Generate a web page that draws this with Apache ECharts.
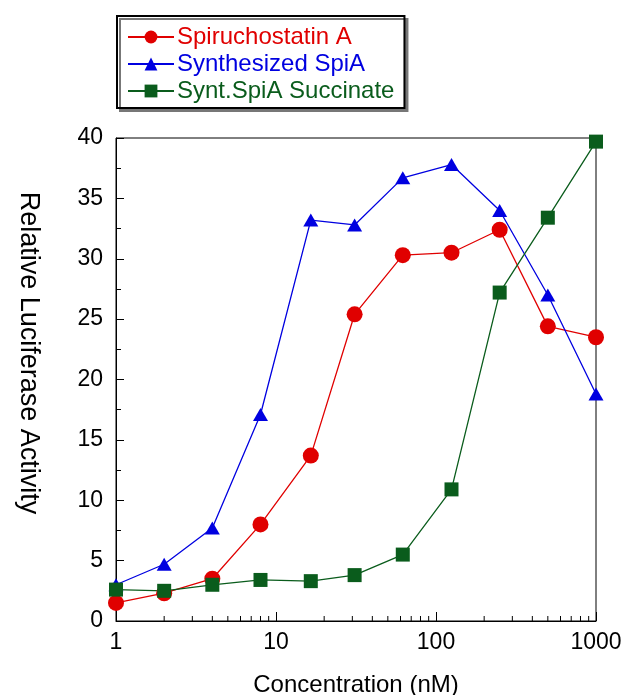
<!DOCTYPE html>
<html>
<head>
<meta charset="utf-8">
<script src="https://cdn.jsdelivr.net/npm/echarts@6/dist/echarts.min.js"></script>
<style>
html,body{margin:0;padding:0;background:#fff;}
#chart{width:627px;height:695px;}
</style>
</head>
<body>
<div id="chart"></div>
<script>
// Data
var concentrations = [1, 2, 4, 8, 16.5, 31, 62, 125, 250, 500, 1000];
var spiruchostatinA = [1.5, 2.3, 3.5, 8.0, 13.7, 25.4, 30.3, 30.5, 32.4, 24.4, 23.5];
var synthesizedSpiA = [3.0, 4.7, 7.7, 17.1, 33.2, 32.8, 36.7, 37.8, 34.0, 27.0, 18.8];
var succinateSpiA = [2.6, 2.5, 3.0, 3.4, 3.3, 3.8, 5.5, 10.9, 27.2, 33.4, 39.7];
var seriesNames = ['Spiruchostatin A', 'Synthesized SpiA', 'Synt.SpiA Succinate'];
var minorXTicks = [2,3,4,5,6,7,8,9,20,30,40,50,60,70,80,90,200,300,400,500,600,700,800,900];

var RED = '#e00000', BLUE = '#0000e0', GREEN = '#0a5c1c';
var FONT = 'Arial, "Liberation Sans", sans-serif';

function pairs(xs, ys){ return xs.map(function(x,i){ return [x, ys[i]]; }); }

var chart = echarts.init(document.getElementById('chart'), null, {renderer:'canvas'});
var axisLineStyle = {color:'#000', width:1};
chart.setOption({
  animation:false,
  backgroundColor:'#fff',
  grid:{left:116, right:31, top:138, bottom:74, show:true, borderColor:'#000', borderWidth:1,
        backgroundColor:'transparent', containLabel:false, outerBoundsMode:'none'},
  legend:{
    orient:'vertical', left:117, top:16,
    padding:[9,10,5,10], itemGap:3, itemWidth:46, itemHeight:16,
    backgroundColor:'#fff', borderColor:'#000', borderWidth:2,
    shadowColor:'#777', shadowOffsetX:3, shadowOffsetY:3, shadowBlur:0,
    textStyle:{fontFamily:FONT, fontSize:24, padding:[0,0,0,-2]},
    data:[
      {name:seriesNames[0], textStyle:{color:RED}},
      {name:seriesNames[1], textStyle:{color:BLUE}},
      {name:seriesNames[2], textStyle:{color:GREEN}}
    ]
  },
  graphic:[{
    type:'text', z:10, x:28, y:353, rotation:-Math.PI/2,
    style:{text:'Relative Luciferase Activity', fontFamily:FONT, fontSize:27, fill:'#000',
           align:'center', verticalAlign:'middle'}
  }],
  xAxis:{
    type:'log', logBase:10, min:1, max:1000,
    name:'Concentration (nM)', nameLocation:'middle', nameGap:52,
    nameTextStyle:{fontFamily:FONT, fontSize:24, color:'#000'},
    axisLine:{show:true, lineStyle:axisLineStyle},
    axisTick:{show:true, inside:true, length:9, lineStyle:{color:'#000'}},
    axisLabel:{show:true, margin:10, fontFamily:FONT, fontSize:23, color:'#000',
      formatter:function(v){ return String(Math.round(v)); }},
    splitLine:{show:false}, minorTick:{show:false}, minorSplitLine:{show:false}
  },
  yAxis:{
    type:'value', min:0, max:40, interval:5,
    axisLine:{show:true, lineStyle:axisLineStyle},
    axisTick:{show:true, inside:true, length:8, lineStyle:{color:'#000'}},
    minorTick:{show:true, splitNumber:2, length:5, lineStyle:{color:'#000'}},
    axisLabel:{margin:13, fontFamily:FONT, fontSize:23, color:'#000'},
    splitLine:{show:false}
  },
  series:[
    {name:seriesNames[0], type:'line', data:pairs(concentrations, spiruchostatinA),
     symbol:'circle', symbolSize:16, color:RED, lineStyle:{width:1.3, color:RED}, itemStyle:{color:RED}},
    {name:seriesNames[1], type:'line', data:pairs(concentrations, synthesizedSpiA),
     symbol:'triangle', symbolSize:[15,13], color:BLUE, lineStyle:{width:1.3, color:BLUE}, itemStyle:{color:BLUE}},
    {name:seriesNames[2], type:'line', data:pairs(concentrations, succinateSpiA),
     symbol:'rect', symbolSize:14, color:GREEN, lineStyle:{width:1.3, color:GREEN}, itemStyle:{color:GREEN}},
    {name:'minorTicks', type:'custom', silent:true, z:1,
     data:minorXTicks.map(function(v){ return [v, 0]; }),
     renderItem:function(params, api){
       var p = api.coord([api.value(0), 0]);
       return {type:'line', shape:{x1:p[0], y1:p[1], x2:p[0], y2:p[1]-5}, style:{stroke:'#000', lineWidth:1}};
     }}
  ]
});
</script>
</body>
</html>
